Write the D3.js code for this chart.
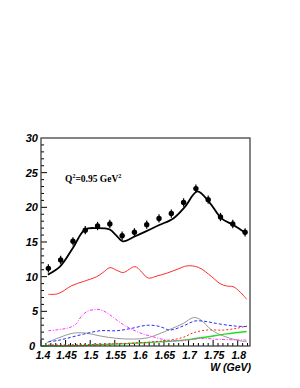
<!DOCTYPE html>
<html><head><meta charset="utf-8">
<script src="https://cdn.jsdelivr.net/npm/d3@7"></script>
<style>body{margin:0;background:#fff}svg{display:block}</style>
</head><body>
<script>
// Data
const dataW = [1.415,1.44,1.465,1.49,1.515,1.54,1.565,1.59,1.615,1.64,1.665,1.69,1.715,1.74,1.765,1.79,1.815];
const dataY = [11.2,12.4,15.1,16.7,17.3,17.6,15.9,16.4,17.5,18.4,19.1,20.7,22.7,21.1,18.6,17.6,16.4];
const dataErr = [0.6,0.6,0.6,0.6,0.6,0.6,0.6,0.6,0.6,0.6,0.6,0.6,0.6,0.6,0.6,0.6,0.6];

const fitW = [1.414,1.439,1.4645,1.4895,1.514,1.5397,1.5525,1.5667,1.5905,1.6155,1.6405,1.669,1.693,1.718,1.7436,1.767,1.791,1.8168];
const fitY = [10.3,11.5,14.1,16.8,17.0,16.8,16.0,15.1,15.8,16.6,17.45,18.4,20.1,22.3,20.6,18.4,17.45,16.25];

const redW = [1.4148,1.435,1.4624,1.486,1.5133,1.526,1.5403,1.5545,1.5673,1.591,1.603,1.618,1.636,1.6556,1.6786,1.6963,1.7198,1.747,1.764,1.7776,1.791,1.8046,1.8183];
const redY = [7.45,7.55,8.7,9.3,10.0,10.6,11.3,10.9,10.6,11.45,10.8,9.8,10.1,10.5,11.1,11.55,11.35,10.0,9.0,8.65,8.55,7.8,6.75];

const magW = [1.4148,1.4346,1.4523,1.463,1.4726,1.481,1.493,1.5133,1.526,1.54,1.554,1.567,1.581,1.601,1.6216,1.6556,1.6893,1.7233,1.764,1.8183];
const magY = [2.2,2.35,2.55,2.8,3.25,4.2,4.95,5.3,5.1,4.5,3.75,3.1,2.55,1.9,1.45,0.85,0.76,1.1,0.95,0.85];

const bluW = [1.4148,1.4346,1.4523,1.486,1.52,1.554,1.581,1.618,1.642,1.6623,1.6893,1.713,1.7335,1.757,1.791,1.8183];
const bluY = [0.6,0.8,1.1,1.7,2.2,2.2,2.5,3.0,2.8,2.3,2.9,3.6,3.55,3.25,2.9,2.8];

const grayW = [1.4116,1.4386,1.459,1.4726,1.493,1.52,1.554,1.5877,1.618,1.642,1.6623,1.6893,1.7097,1.7233,1.747,1.7707,1.798,1.8183];
const grayY = [0.5,1.25,1.75,1.9,1.85,1.45,1.1,1.0,1.2,1.8,2.4,3.25,4.1,3.85,2.3,1.45,0.85,0.6];

const rdotW = [1.414,1.52,1.618,1.6623,1.6893,1.7097,1.737,1.7707,1.798,1.8183];
const rdotY = [0.15,0.25,0.55,0.85,1.25,1.9,2.3,2.3,2.55,2.9];

const grnW = [1.4,1.479,1.52,1.561,1.601,1.669,1.703,1.737,1.7776,1.8183];
const grnY = [0.0,0.05,0.2,0.3,0.45,0.7,0.95,1.3,1.75,2.1];

const xTicks = [1.4,1.45,1.5,1.55,1.6,1.65,1.7,1.75,1.8];
const yTicks = [0,5,10,15,20,25,30];

const W = 300, H = 388;
const L = 41, R = 250, T = 138, B = 346;
const svg = d3.select("body").append("svg").attr("width", W).attr("height", H);
const x = d3.scaleLinear().domain([1.4, 1.825]).range([L, R]);
const y = d3.scaleLinear().domain([0, 30]).range([B, T]);

// ticks (inside)
const g = svg.append("g");
d3.range(1.40, 1.825, 0.01).forEach(v => {
  const major = Math.abs(v*20 - Math.round(v*20)) < 1e-6;
  g.append("line").attr("x1", x(v)).attr("x2", x(v)).attr("y1", B).attr("y2", B - (major ? 6 : 3))
    .attr("stroke", "#000").attr("stroke-width", 1);
});
d3.range(0, 30, 1).forEach(v => {
  const major = v % 5 === 0;
  g.append("line").attr("x1", L).attr("x2", L + (major ? 6 : 3)).attr("y1", y(v)).attr("y2", y(v))
    .attr("stroke", "#000").attr("stroke-width", 1);
});

// curves
const line = (ws, ys) => d3.line().x((d,i)=>x(ws[i])).y((d,i)=>y(ys[i])).curve(d3.curveCatmullRom.alpha(0.5))(ws);
const curves = [
  {w: grnW, y: grnY, c: "#22dd22", sw: 1.4, da: null},
  {w: rdotW, y: rdotY, c: "#ff2222", sw: 1, da: "2,2"},
  {w: grayW, y: grayY, c: "#8c8c8c", sw: 0.9, da: null},
  {w: bluW, y: bluY, c: "#2a2aff", sw: 1, da: "3,2"},
  {w: magW, y: magY, c: "#ff33ff", sw: 1, da: "3,1.5,1,1.5"},
  {w: redW, y: redY, c: "#ff2a2a", sw: 1, da: null},
  {w: fitW, y: fitY, c: "#000", sw: 1.8, da: null}
];
curves.forEach(cv => {
  const p = svg.append("path").attr("d", line(cv.w, cv.y)).attr("fill", "none")
    .attr("stroke", cv.c).attr("stroke-width", cv.sw);
  if (cv.da) p.attr("stroke-dasharray", cv.da);
});

// data points
dataW.forEach((w, i) => {
  svg.append("line").attr("x1", x(w)).attr("x2", x(w)).attr("y1", y(dataY[i]-dataErr[i])).attr("y2", y(dataY[i]+dataErr[i]))
    .attr("stroke", "#000").attr("stroke-width", 1.2);
  svg.append("circle").attr("cx", x(w)).attr("cy", y(dataY[i])).attr("r", 2.7).attr("fill", "#000");
});

// frame
svg.append("rect").attr("x", L).attr("y", T).attr("width", R-L).attr("height", B-T)
  .attr("fill", "none").attr("stroke", "#333").attr("stroke-width", 1.2);

// tick labels
const lf = "'Liberation Sans', Arial, sans-serif";
xTicks.forEach(v => {
  svg.append("text").attr("x", x(v) + (v === 1.4 ? 2 : 1)).attr("y", 358.5).attr("text-anchor", "middle")
    .attr("font-family", lf).attr("font-weight", "bold").attr("font-style", "italic").attr("font-size", 10.5)
    .text(String(v));
});
yTicks.forEach(v => {
  svg.append("text").attr("x", v === 0 ? 35 : 38).attr("y", y(v)+4).attr("text-anchor", "end")
    .attr("font-family", lf).attr("font-weight", "bold").attr("font-style", "italic").attr("font-size", 11)
    .text(String(v));
});
svg.append("text").attr("x", 251).attr("y", 370.5).attr("text-anchor", "end")
  .attr("font-family", lf).attr("font-weight", "bold").attr("font-style", "italic").attr("font-size", 10.5)
  .text("W (GeV)");

// annotation
const t = svg.append("text").attr("x", 65).attr("y", 182)
  .attr("font-family", "'Liberation Serif', 'Times New Roman', serif").attr("font-weight", "bold").attr("font-size", 9.5);
t.append("tspan").text("Q");
t.append("tspan").attr("font-size", 6).attr("dy", -4).text("2");
t.append("tspan").attr("dy", 4).text("=0.95 GeV");
t.append("tspan").attr("font-size", 6).attr("dy", -4).text("2");
</script>
</body></html>
